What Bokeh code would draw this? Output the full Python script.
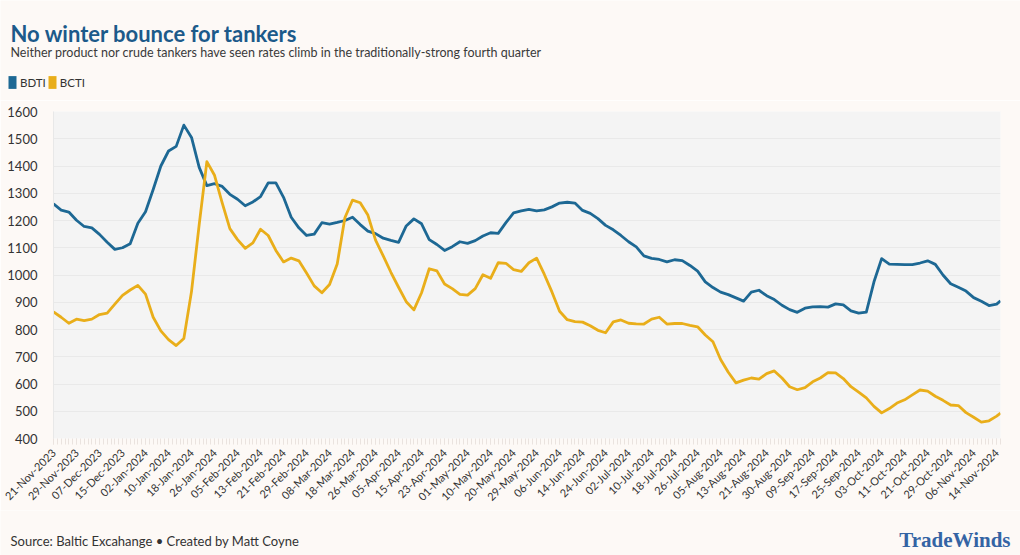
import math
from bokeh.plotting import figure
from bokeh.layouts import column
from bokeh.models import Range1d, FixedTicker, Label, Legend, LegendItem
from bokeh.embed import file_html
from bokeh.resources import INLINE

# ---------------- data ----------------
DATE_LABELS = [
    "21-Nov-2023", "29-Nov-2023", "07-Dec-2023", "15-Dec-2023", "02-Jan-2024", "10-Jan-2024",
    "18-Jan-2024", "26-Jan-2024", "05-Feb-2024", "13-Feb-2024", "21-Feb-2024", "29-Feb-2024",
    "08-Mar-2024", "18-Mar-2024", "26-Mar-2024", "05-Apr-2024", "15-Apr-2024", "23-Apr-2024",
    "01-May-2024", "10-May-2024", "20-May-2024", "29-May-2024", "06-Jun-2024", "14-Jun-2024",
    "24-Jun-2024", "02-Jul-2024", "10-Jul-2024", "18-Jul-2024", "26-Jul-2024", "05-Aug-2024",
    "13-Aug-2024", "21-Aug-2024", "30-Aug-2024", "09-Sep-2024", "17-Sep-2024", "25-Sep-2024",
    "03-Oct-2024", "11-Oct-2024", "21-Oct-2024", "29-Oct-2024", "06-Nov-2024", "14-Nov-2024",
]
LABEL_EVERY = 6  # trading days between labelled dates
N_DAYS = 248     # trading days in the series

# trading-day index of each reading
DAY = list(range(0, 247, 2)) + [247]

BDTI = [
    1261, 1238, 1231, 1201, 1178, 1173, 1149, 1120, 1094, 1100, 1115, 1190, 1232, 1314, 1400, 1455,
    1472, 1550, 1505, 1395, 1328, 1335, 1325, 1296, 1278, 1254, 1268, 1288, 1338, 1338, 1285, 1212,
    1173, 1145, 1150, 1192, 1187, 1193, 1200, 1212, 1185, 1161, 1152, 1135, 1127, 1120, 1180, 1206,
    1188, 1130, 1112, 1090, 1104, 1122, 1116, 1126, 1143, 1155, 1153, 1192, 1228, 1235, 1241, 1235,
    1239, 1250, 1264, 1267, 1264, 1237, 1226, 1207, 1182, 1166, 1145, 1122, 1103, 1070, 1061, 1057,
    1048, 1056, 1053, 1035, 1014, 975, 954, 937, 928, 916, 904, 937, 944, 924, 910, 889,
    873, 863, 878, 883, 884, 882, 894, 890, 868, 860, 864, 975, 1060, 1040, 1039, 1038,
    1038, 1044, 1052, 1039, 1000, 968, 955, 941, 917, 904, 888, 893, 905,
]

BCTI = [
    865, 845, 823, 838, 833, 838, 855, 860, 893, 925, 945, 962, 930, 845, 795, 763,
    741, 767, 940, 1185, 1416, 1366, 1265, 1170, 1130, 1098, 1118, 1168, 1145, 1090, 1048, 1062,
    1052, 1007, 960, 935, 965, 1040, 1210, 1275, 1265, 1220, 1128, 1070, 1010, 955, 902, 872,
    935, 1023, 1015, 967, 950, 929, 926, 950, 1001, 988, 1045, 1043, 1020, 1013, 1045, 1062,
    1003, 938, 867, 836, 829, 827, 814, 797, 788, 828, 835, 823, 821, 820, 838, 845,
    820, 822, 822, 815, 810, 780, 755, 690, 643, 604, 614, 622, 618, 638, 648, 622,
    590, 579, 587, 608, 622, 642, 641, 620, 590, 570, 549, 518, 494, 510, 530, 542,
    560, 578, 574, 555, 540, 523, 521, 495, 478, 460, 465, 482, 493,
]

Y_TICKS = [400, 500, 600, 700, 800, 900, 1000, 1100, 1200, 1300, 1400, 1500, 1600]

SERIES = ["BDTI", "BCTI"]

TITLE = "No winter bounce for tankers"
SUBTITLE = "Neither product nor crude tankers have seen rates climb in the traditionally-strong fourth quarter"
FOOTER = "Source: Baltic Excahange \u2022 Created by Matt Coyne"
LOGO = "TradeWinds"

# ---------------- style ----------------
BLUE = "#1D6894"
YELLOW = "#E9AE1A"
TITLE_BLUE = "#1C5A8A"
PAGE_BG = "#FDF9F6"
PLOT_BG = "#F4F4F4"
TEXT = "#333333"
FONT = "Lato"

W = 1020
H_HEAD, H_MAIN, H_FOOT = 100, 410, 45


def text_panel(height):
    f = figure(width=W, height=height, output_backend="svg", toolbar_location=None,
               x_range=Range1d(0, W), y_range=Range1d(height, 0),
               x_axis_location=None, y_axis_location=None,
               min_border=0, min_border_left=0, min_border_right=0,
               min_border_top=0, min_border_bottom=0, frame_align=False,
               background_fill_color=PAGE_BG, border_fill_color=PAGE_BG,
               outline_line_color=None)
    f.grid.visible = False
    return f


# ---------------- header ----------------
head = text_panel(H_HEAD)
head.add_layout(Label(x=10, y=33, text=TITLE, text_font=FONT, text_font_style="bold",
                      text_font_size="22px", text_color=TITLE_BLUE, text_baseline="alphabetic"))
head.add_layout(Label(x=10, y=52, text=SUBTITLE, text_font=FONT,
                      text_font_size="12.5px", text_color="#3A3A3A", text_baseline="alphabetic"))
# legend swatch renderers (one hidden point each, outside the header's range)
sw_bdti = head.vbar(x=[-100], top=[0], width=1, fill_color=BLUE, line_color=None)
sw_bcti = head.vbar(x=[-100], top=[0], width=1, fill_color=YELLOW, line_color=None)
legend = Legend(
    items=[LegendItem(label=SERIES[0], renderers=[sw_bdti]),
           LegendItem(label=SERIES[1], renderers=[sw_bcti])],
    orientation="horizontal", location=(7, H_HEAD - 90),
    glyph_width=10, glyph_height=16, label_height=16, label_standoff=3, spacing=1,
    padding=0, margin=0, background_fill_alpha=0, border_line_alpha=0,
    label_text_font=FONT, label_text_font_size="11.5px", label_text_color=TEXT,
)
head.add_layout(legend, "center")

# ---------------- main chart ----------------
p = figure(
    width=W, height=H_MAIN, output_backend="svg", toolbar_location=None,
    x_range=Range1d(0, N_DAYS - 1), y_range=Range1d(Y_TICKS[0], Y_TICKS[-1]),
    min_border_left=53, min_border_right=20, min_border_top=11, min_border_bottom=68,
    frame_align=False,
    background_fill_color=PLOT_BG, border_fill_color=PAGE_BG, outline_line_color=None,
)

p.line(DAY, BDTI, line_color=BLUE, line_width=2.8, line_join="round")
p.line(DAY, BCTI, line_color=YELLOW, line_width=2.8, line_join="round")

major = [i * LABEL_EVERY for i in range(len(DATE_LABELS))]
p.xaxis.ticker = FixedTicker(ticks=major, minor_ticks=list(range(N_DAYS)))
p.xaxis.major_label_overrides = {m: lab for m, lab in zip(major, DATE_LABELS)}
p.xaxis.major_label_orientation = math.pi / 4
p.xaxis.axis_line_color = None
p.xaxis.major_tick_line_color = "#EAE3DF"
p.xaxis.minor_tick_line_color = "#EAE3DF"
p.xaxis.major_tick_in = 0
p.xaxis.major_tick_out = 6
p.xaxis.minor_tick_in = 0
p.xaxis.minor_tick_out = 6
p.xaxis.major_label_standoff = 6
p.xaxis.major_label_text_font = FONT
p.xaxis.major_label_text_font_size = "11px"
p.xaxis.major_label_text_color = TEXT

p.yaxis.ticker = FixedTicker(ticks=Y_TICKS)
p.yaxis.axis_line_color = "#E8E8E8"
p.yaxis.major_tick_line_color = None
p.yaxis.minor_tick_line_color = None
p.yaxis.major_label_standoff = 10
p.yaxis.major_label_text_font = FONT
p.yaxis.major_label_text_font_size = "13px"
p.yaxis.major_label_text_color = TEXT

p.xgrid.grid_line_color = None
p.ygrid.grid_line_color = "#E9E9E9"
p.ygrid.grid_line_width = 1

# ---------------- footer ----------------
foot = text_panel(H_FOOT)
foot_top = H_HEAD + H_MAIN
foot.add_layout(Label(x=10, y=540 - foot_top, text=FOOTER, text_font=FONT, text_font_size="13px",
                      text_color=TEXT, text_baseline="alphabetic"))
foot.add_layout(Label(x=1010, y=539 - foot_top, text=LOGO, text_font="Liberation Serif",
                      text_font_style="bold", text_font_size="21px", text_color="#3464A4",
                      text_align="right", text_baseline="alphabetic"))

layout = column(head, p, foot, spacing=0)
open("out.html", "w").write(file_html(layout, INLINE))
